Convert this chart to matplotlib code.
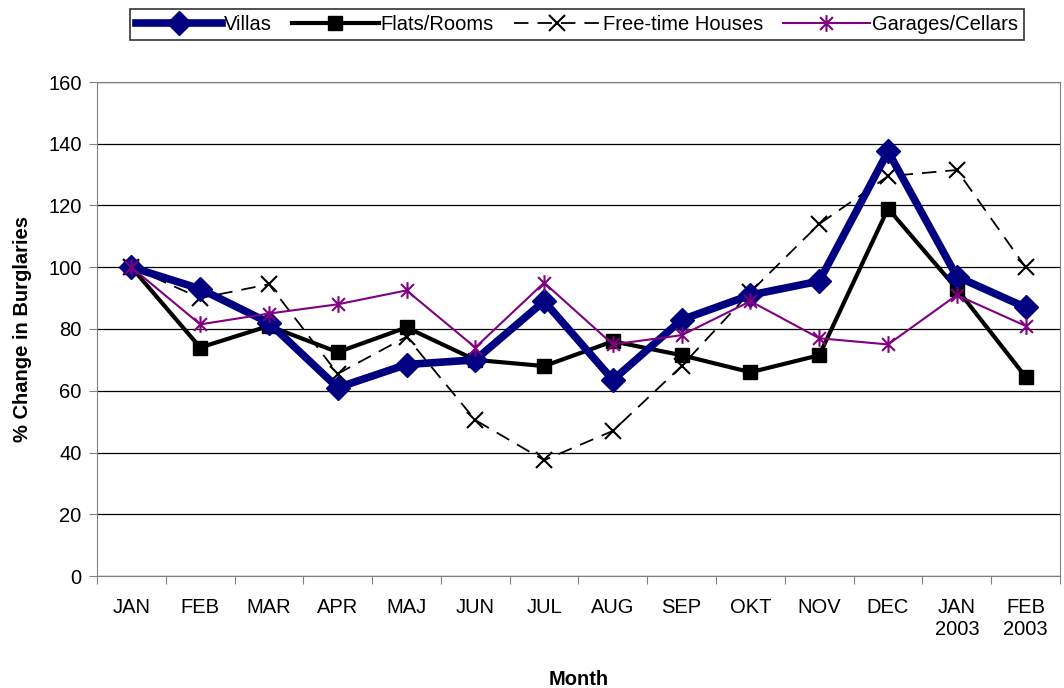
import matplotlib.pyplot as plt
from matplotlib.path import Path

plt.rcParams['font.family'] = ['Liberation Sans', 'DejaVu Sans']

months = ['JAN', 'FEB', 'MAR', 'APR', 'MAJ', 'JUN', 'JUL', 'AUG', 'SEP', 'OKT',
          'NOV', 'DEC', 'JAN\n2003', 'FEB\n2003']
villas = [100, 93, 82, 61, 68.5, 70, 89, 63.5, 83, 91, 95.5, 137.5, 97, 87]
flats = [100, 74, 81, 72.5, 80.5, 70, 68, 76, 71.5, 66, 71.5, 119, 93, 64.5]
freetime = [100, 90, 94.5, 65.5, 77.5, 50.5, 37.5, 47, 68, 92, 114, 129.5, 131.5, 100]
garages = [100, 81.5, 85, 88, 92.5, 74, 95, 75, 78, 89, 77, 75, 91, 81]

# excel style star: X plus a vertical bar
star = Path([(-1, -1), (1, 1), (-1, 1), (1, -1), (0, -1.3), (0, 1.3)],
            [Path.MOVETO, Path.LINETO, Path.MOVETO, Path.LINETO, Path.MOVETO, Path.LINETO])

fig = plt.figure(figsize=(10.64, 6.88), dpi=100)
ax = fig.add_axes([97 / 1064, 1 - 576 / 688, (1060 - 97) / 1064, (576 - 82) / 688])

x = list(range(len(months)))
ax.plot(x, villas, color='#000080', lw=5.5, marker='D', ms=12, label='Villas', zorder=5)
ax.plot(x, flats, color='black', lw=3, marker='s', ms=10, label='Flats/Rooms', zorder=4)
ax.plot(x, freetime, color='black', lw=1.3, ls=(0, (8, 5)), marker='x', ms=11, mew=1.5,
        label='Free-time Houses', zorder=3)
ax.plot(x, garages, color='#800080', lw=1.5, marker=star, ms=12, mew=1.5,
        label='Garages/Cellars', zorder=6)

ax.set_xlim(-0.5, len(months) - 0.5)
ax.set_ylim(0, 160)
ax.set_yticks(range(0, 161, 20))
ax.yaxis.grid(True, color='black', lw=0.9)
ax.set_axisbelow(True)

ax.set_xticks([i - 0.5 for i in range(len(months) + 1)])
ax.set_xticklabels([])
ax.set_xticks(x, minor=True)
ax.set_xticklabels(months, minor=True, fontsize=14.5)
ax.tick_params(axis='x', which='minor', length=0, pad=16)
ax.tick_params(axis='x', which='major', length=6, direction='out', color='#808080')
ax.tick_params(axis='y', labelsize=14.5, length=6, color='#808080', pad=5)

for s in ['top', 'right', 'left', 'bottom']:
    ax.spines[s].set_color('#808080')

ax.set_xlabel('Month', fontsize=14.5, fontweight='bold', labelpad=22)
ax.set_ylabel('% Change in Burglaries', fontsize=14.5, fontweight='bold', labelpad=12)

leg = fig.legend(loc='upper center', bbox_to_anchor=(0.542, 1.002), ncol=4, fontsize=14.5,
                 frameon=True, fancybox=False, edgecolor='black', handlelength=4.3,
                 handletextpad=0.1, columnspacing=1.0, borderpad=0.3)
leg.get_frame().set_linewidth(1.2)

fig.savefig('out.png', dpi=100)
